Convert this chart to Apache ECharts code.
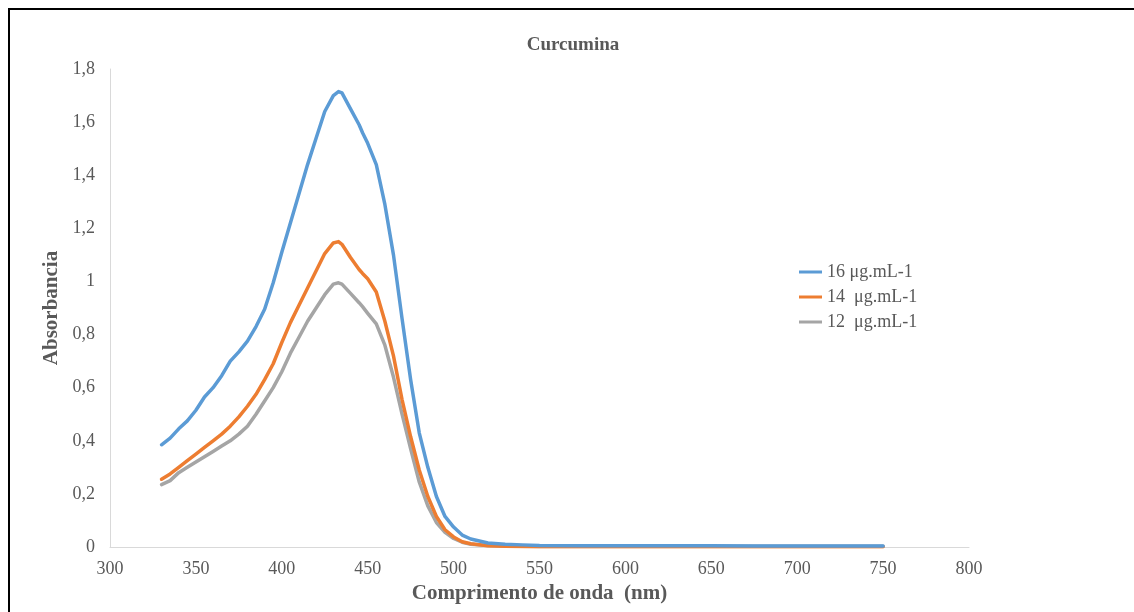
<!DOCTYPE html>
<html>
<head>
<meta charset="utf-8">
<script src="https://cdn.jsdelivr.net/npm/echarts@6/dist/echarts.min.js"></script>
<style>
  html, body { margin: 0; padding: 0; background: #fff; }
  #chart { width: 1134px; height: 612px; }
</style>
</head>
<body>
<div id="chart"></div>
<script>
// comprimento de onda (nm)
const wavelength = [330, 335, 340, 345, 350, 355, 360, 365, 370, 375, 380, 385, 390, 395, 400, 405, 410, 415, 420, 425, 430, 433, 435, 440, 445, 447, 450, 455, 460, 465, 470, 475, 480, 485, 490, 495, 500, 505, 510, 520, 530, 540, 550, 575, 600, 625, 650, 675, 700, 725, 750]

const abs16 = [0.385, 0.41, 0.445, 0.475, 0.515, 0.565, 0.60, 0.645, 0.70, 0.735, 0.775, 0.83, 0.895, 0.995, 1.11, 1.22, 1.33, 1.44, 1.54, 1.64, 1.70, 1.715, 1.71, 1.65, 1.59, 1.56, 1.52, 1.44, 1.29, 1.10, 0.86, 0.63, 0.43, 0.30, 0.19, 0.115, 0.075, 0.045, 0.03, 0.015, 0.01, 0.008, 0.006, 0.005, 0.005, 0.005, 0.005, 0.004, 0.004, 0.004, 0.004]

const abs14 = [0.255, 0.275, 0.30, 0.325, 0.35, 0.375, 0.40, 0.425, 0.455, 0.49, 0.53, 0.575, 0.63, 0.69, 0.77, 0.845, 0.91, 0.975, 1.04, 1.105, 1.145, 1.15, 1.14, 1.09, 1.045, 1.03, 1.01, 0.96, 0.85, 0.72, 0.555, 0.415, 0.29, 0.19, 0.115, 0.065, 0.038, 0.02, 0.012, 0.005, 0.003, 0.002, 0.001, 0.001, 0.001, 0.001, 0.001, 0.001, 0.001, 0.001, 0.001]

const abs12 = [0.235, 0.25, 0.28, 0.30, 0.32, 0.34, 0.36, 0.38, 0.40, 0.425, 0.455, 0.50, 0.55, 0.60, 0.66, 0.73, 0.79, 0.85, 0.90, 0.95, 0.99, 0.995, 0.99, 0.955, 0.92, 0.905, 0.88, 0.84, 0.76, 0.64, 0.50, 0.37, 0.245, 0.155, 0.092, 0.055, 0.032, 0.018, 0.01, 0.006, 0.004, 0.004, 0.003, 0.003, 0.003, 0.003, 0.003, 0.003, 0.003, 0.003, 0.003]

const seriesNames = ['16 μg.mL-1', '14  μg.mL-1', '12  μg.mL-1']
const seriesColors = ['#5b9bd5', '#ed7d31', '#a5a5a5']

const pairs = (ys) => wavelength.map((x, i) => [x, ys[i]])

const fmtComma = (v) => String(Math.round(v * 10) / 10).replace('.', ',')

const serif = '"Liberation Serif", "Times New Roman", serif'

const chart = echarts.init(document.getElementById('chart'))

const option = {
  backgroundColor: '#fff',
  animation: false,
  title: {
    text: 'Curcumina',
    left: 568,
    textAlign: 'center',
    top: 31,
    textStyle: {
      fontFamily: serif,
      fontWeight: 'bold',
      fontSize: 19,
      color: '#595959'
    }
  },
  grid: {
    left: 110,
    right: 165,
    top: 69,
    bottom: 65,
    outerBoundsMode: 'none'
  },
  legend: {
    orient: 'vertical',
    left: 799,
    top: 263,
    padding: 0,
    icon: 'rect',
    itemWidth: 23,
    itemHeight: 3,
    itemGap: 7,
    data: seriesNames,
    textStyle: {
      fontFamily: serif,
      fontSize: 18,
      lineHeight: 18,
      color: '#595959'
    }
  },
  xAxis: {
    type: 'value',
    min: 300,
    max: 800,
    interval: 50,
    name: 'Comprimento de onda  (nm)',
    nameLocation: 'middle',
    nameGap: 35,
    nameTextStyle: {
      fontFamily: serif,
      fontWeight: 'bold',
      fontSize: 21,
      color: '#595959',
      verticalAlign: 'top'
    },
    axisLine: { lineStyle: { color: '#d9d9d9', width: 1 } },
    axisTick: { show: false },
    splitLine: { show: false },
    axisLabel: {
      margin: 13,
      fontFamily: serif,
      fontSize: 18,
      color: '#595959'
    }
  },
  yAxis: {
    type: 'value',
    min: 0,
    max: 1.8,
    interval: 0.2,
    name: 'Absorbancia',
    nameLocation: 'middle',
    nameGap: 44,
    nameTextStyle: {
      fontFamily: serif,
      fontWeight: 'bold',
      fontSize: 21,
      color: '#595959'
    },
    axisLine: { show: true, lineStyle: { color: '#d9d9d9', width: 1 } },
    axisTick: { show: false },
    splitLine: { show: false },
    axisLabel: {
      margin: 15,
      fontFamily: serif,
      fontSize: 18,
      color: '#595959',
      formatter: fmtComma
    }
  },
  series: [abs16, abs14, abs12].map((ys, i) => ({
    name: seriesNames[i],
    type: 'line',
    data: pairs(ys),
    symbol: 'none',
    smooth: false,
    z: 3 - i,
    color: seriesColors[i],
    lineStyle: { color: seriesColors[i], width: 3.5, cap: 'round', join: 'round' }
  })),
  graphic: [
    {
      type: 'line',
      shape: { x1: 8, y1: 9, x2: 1134, y2: 9 },
      style: { stroke: '#000', lineWidth: 2 }
    },
    {
      type: 'line',
      shape: { x1: 9, y1: 8, x2: 9, y2: 612 },
      style: { stroke: '#000', lineWidth: 2 }
    }
  ]
}

chart.setOption(option)
</script>
</body>
</html>
